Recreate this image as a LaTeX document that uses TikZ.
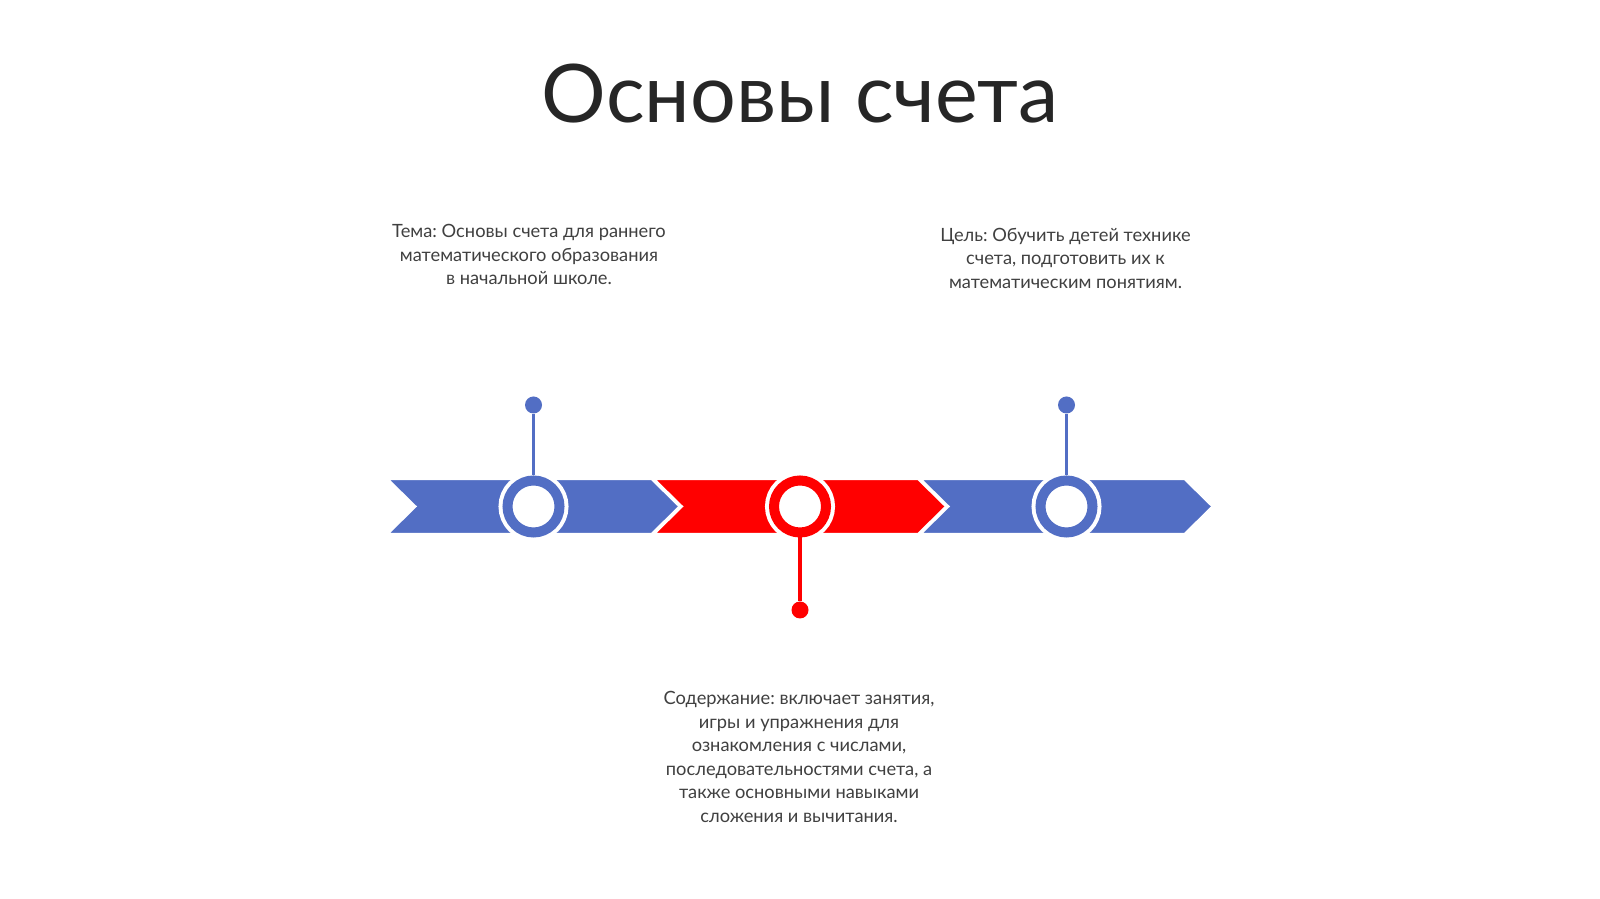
\documentclass[tikz,border=0pt]{standalone}
\usepackage{fontspec}
\setmainfont{Lato}
\usetikzlibrary{positioning}
\definecolor{chevblue}{RGB}{82,110,196}
\definecolor{chevred}{RGB}{255,0,0}
\definecolor{titlegray}{RGB}{38,38,38}
\definecolor{textgray}{RGB}{64,64,64}
\frenchspacing

\begin{document}
\begin{tikzpicture}[
	ring/.style={circle, fill=white, draw=#1, line width=0.10cm, minimum size=0.52cm, inner sep=0pt,
		preaction={draw=white, line width=0.18cm}},
	pin/.style={circle, fill=#1, minimum size=0.17cm, inner sep=0pt},
	stem/.style={draw=#1, line width=1pt},
	chev/.style={fill=#1, draw=white, line width=0.6pt, line join=miter},
	note/.style={align=center, text=textgray, font=\fontsize{5.2}{6.69}\selectfont}
	]
			\useasboundingbox[fill=white] (0,0) rectangle (16,-8.99);
			\def\ya{-4.79}
			\def\yb{-5.065}
			\def\yc{-5.34}
			% chevrons
			\fill[chev=chevblue] (3.875,\ya) -- (6.515,\ya) -- (6.795,\yb) -- (6.515,\yc) -- (3.875,\yc) -- (4.155,\yb) -- cycle;
			\fill[chev=chevred] (6.54,\ya) -- (9.18,\ya) -- (9.46,\yb) -- (9.18,\yc) -- (6.54,\yc) -- (6.82,\yb) -- cycle;
			\fill[chev=chevblue] (9.205,\ya) -- (11.845,\ya) -- (12.125,\yb) -- (11.845,\yc) -- (9.205,\yc) -- (9.485,\yb) -- cycle;
			% rings and pins
			\node[ring=chevblue] (ringA) at (5.335,\yb) {};
			\node[ring=chevred] (ringB) at (8.0,\yb) {};
			\node[ring=chevblue] (ringC) at (10.665,\yb) {};
			\node[pin=chevblue] (pinA) at (5.335,-4.05) {};
			\node[pin=chevred] (pinB) at (8.0,-6.10) {};
			\node[pin=chevblue] (pinC) at (10.665,-4.05) {};
			\draw[stem=chevblue] (pinA) -- (ringA);
			\draw[stem=chevred] (pinB) -- (ringB);
			\draw[stem=chevblue] (pinC) -- (ringC);
			% texts
			\node[text=titlegray, font=\fontsize{23}{27}\selectfont] (title) at (8.0,-0.935) {Основы счета};
			\node[note] (tema) at (5.29,-2.548) {Тема: Основы счета для раннего\\математического образования\\в начальной школе.};
			\node[note] (goal) at (10.655,-2.58) {Цель: Обучить детей технике\\счета, подготовить их к\\математическим понятиям.};
			\node[note] (content) at (7.99,-7.57) {Содержание: включает занятия,\\игры и упражнения для\\ознакомления с числами,\\последовательностями счета, а\\также основными навыками\\сложения и вычитания.};
		\end{tikzpicture}
\end{document}
